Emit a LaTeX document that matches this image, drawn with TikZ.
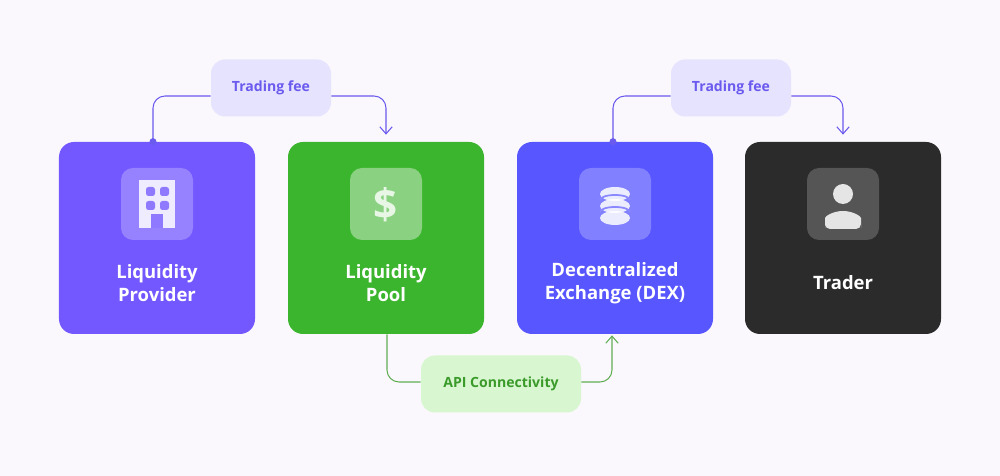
\documentclass[tikz,border=0pt]{standalone}
\usepackage{fontspec}
\setmainfont{Open Sans}
\usetikzlibrary{positioning}
\usetikzlibrary{arrows.meta}
\definecolor{bg}{HTML}{FAF8FC}
\definecolor{provider}{HTML}{7358FF}
\definecolor{pool}{HTML}{3CB52E}
\definecolor{dex}{HTML}{5856FF}
\definecolor{trader}{HTML}{2B2B2B}
\definecolor{fee-fill}{HTML}{E6E3FF}
\definecolor{fee-text}{HTML}{6A5AEE}
\definecolor{api-fill}{HTML}{D8F7D0}
\definecolor{api-text}{HTML}{3A9A2A}
\begin{document}
\begin{tikzpicture}[x=0.2mm, y=-0.2mm, >={Straight Barb[length=4pt,width=7pt]},
  box/.style={draw=none, rounded corners=3mm, minimum width=39.2mm, minimum height=38.4mm, inner sep=0pt},
  icon/.style={rounded corners=2.4mm, minimum size=14.4mm, inner sep=0pt, fill=white, fill opacity=0.25},
  title/.style={text=white, font=\bfseries\fontsize{10.5}{13}\selectfont, align=center},
  tag/.style={rounded corners=2.8mm, minimum height=11.4mm, inner sep=0pt, font=\bfseries\fontsize{8}{9}\selectfont},
  fee/.style={tag, fill=fee-fill, text=fee-text, minimum width=24mm},
  api/.style={tag, fill=api-fill, text=api-text, minimum width=32mm},
  link/.style={line width=0.6pt, rounded corners=2.4mm}]

\fill[bg] (0,0) rectangle (1000,476);

% the four parties
\node[box, fill=provider] (provider) at (157,238) {};
\node[box, fill=pool] (pool) at (386,238) {};
\node[box, fill=dex] (dex) at (615,238) {};
\node[box, fill=trader] (trader) at (843,238) {};

\node[icon] (provider-icon) at (157,204) {};
\node[icon, fill opacity=0.4] (pool-icon) at (386,204) {};
\node[icon] (dex-icon) at (615,204) {};
\node[icon, fill opacity=0.2] (trader-icon) at (843,204) {};

\node[title] at (157,283) {Liquidity\\Provider};
\node[title] at (386,283) {Liquidity\\Pool};
\node[title] at (615,283) {Decentralized\\Exchange (DEX)};
\node[title] at (843,283) {Trader};

% icons
\fill[white, opacity=0.85] (139,180) rectangle (175,228);
\foreach \dx in {146,160}
  \foreach \dy in {187,201}
    \fill[provider!80!white, rounded corners=0.5mm] (\dx,\dy) rectangle ++(9,9);
\fill[provider!80!white] (151,214) rectangle (163,228);
\node[text=white, opacity=0.8, font=\bfseries\fontsize{24}{24}\selectfont] at (386,205) {\$};
\foreach \dy in {218,206,194}
  \fill[white, opacity=0.85] (615,\dy) ellipse (15 and 7);
\draw[dex!70!white, line width=1pt] (600,200) arc (180:360:15 and 5);
\draw[dex!70!white, line width=1pt] (600,212) arc (180:360:15 and 5);
\fill[white, opacity=0.85] (843,194) circle (10);
\fill[white, opacity=0.85, rounded corners=1mm] (825,229) -- (825,223) arc (180:360:18 and 12) -- (861,229) -- cycle;

% fees and connectivity
\node[fee] (fee-left) at (271,88) {Trading fee};
\node[fee] (fee-right) at (731,88) {Trading fee};
\node[api] (api) at (501,384) {API Connectivity};

\draw[link, fee-text] ([xshift=-0.8mm]provider.north) |- ([yshift=-1.6mm]fee-left.west);
\fill[fee-text] ([xshift=-0.8mm]provider.north) circle (3.5);
\draw[link, fee-text, ->] ([yshift=-1.6mm]fee-left.east) -| ([yshift=1.4mm]pool.north);
\draw[link, fee-text] ([xshift=-0.4mm]dex.north) |- ([yshift=-1.6mm]fee-right.west);
\fill[fee-text] ([xshift=-0.4mm]dex.north) circle (3.5);
\draw[link, fee-text, ->] ([yshift=-1.6mm]fee-right.east) -| ([yshift=1.4mm]trader.north);

\draw[link, api-text!80!white] ([xshift=0.2mm]pool.south) |- ([yshift=0.4mm]api.west);
\draw[link, api-text!80!white, ->] ([yshift=0.4mm]api.east) -| ([xshift=-0.6mm,yshift=-0.2mm]dex.south);

\end{tikzpicture}
\end{document}
